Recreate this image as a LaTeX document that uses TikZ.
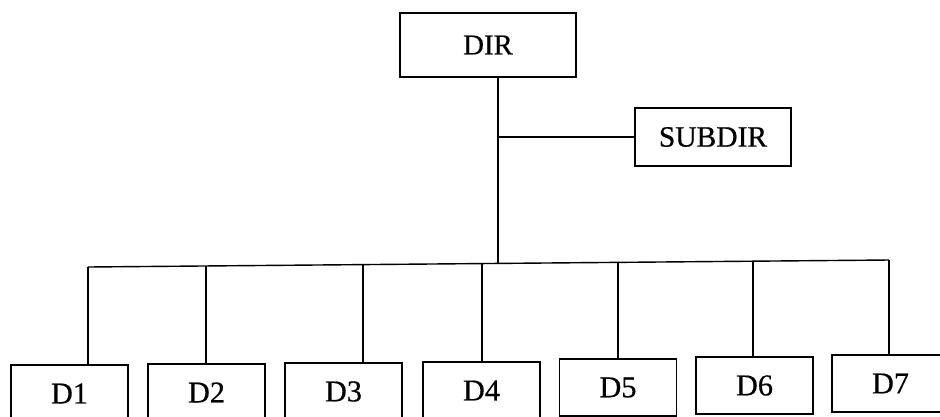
\documentclass[tikz,border=0pt]{standalone}
\usepackage{fontspec}
\setmainfont{Liberation Serif}
\newfontface\scanfont[FakeBold=0.6]{Liberation Serif}

\tikzset{
  unitbox/.style={draw, line width=1.1pt, inner sep=0pt, font=\scanfont\fontsize{20.5}{24}\selectfont},
  deptbox/.style={unitbox, minimum width=2.925cm, minimum height=1.425cm, font=\scanfont\fontsize{21.5}{25}\selectfont},
  wire/.style={line width=1pt}
}

\begin{document}
\begin{tikzpicture}[x=0.025cm, y=-0.025cm]
    % =========================================
    % 1. canvas 940 x 416 (pixel units)
    % =========================================
    \useasboundingbox (0,0) rectangle (940,416);

    % =========================================
    % 2. top boxes
    % =========================================
    \node[unitbox, minimum width=4.4cm, minimum height=1.6cm] (DIR) at (488,45) {DIR};
    \node[unitbox, minimum width=3.9cm, minimum height=1.45cm, font=\scanfont\fontsize{21}{25}\selectfont] (SUBDIR) at (713,137) {SUBDIR};

    % trunk and branch
    \coordinate (trunk) at (498,263.4);
    \draw[wire] (DIR.south -| trunk) -- (trunk);
    \draw[wire] (SUBDIR.west -| trunk) -- (SUBDIR.west);

    % =========================================
    % 3. department boxes
    % =========================================
    \node[deptbox] (D1) at (69.5,393.5) {D1};
    \node[deptbox] (D2) at (206.5,392.5) {D2};
    \node[deptbox] (D3) at (343.5,391.5) {D3};
    \node[deptbox] (D4) at (481.5,390.5) {D4};
    \node[deptbox] (D5) at (618,387.5) {D5};
    \node[deptbox] (D6) at (754.5,385.5) {D6};
    \node[deptbox] (D7) at (890.5,383.5) {D7};

    % =========================================
    % 4. bus and drops (bus runs slightly uphill)
    % =========================================
    \coordinate (b1) at (88,267);
    \coordinate (b7) at (889,260);
    \draw[wire] (b1) -- (b7);

    \foreach \i/\x in {1/88, 2/206, 3/363, 4/482, 5/618, 6/753, 7/889}{
        \coordinate (drop\i) at (\x,{267-7*(\x-88)/801});
        \draw[wire] (drop\i) -- (drop\i |- D\i.north);
    }

\end{tikzpicture}
\end{document}
